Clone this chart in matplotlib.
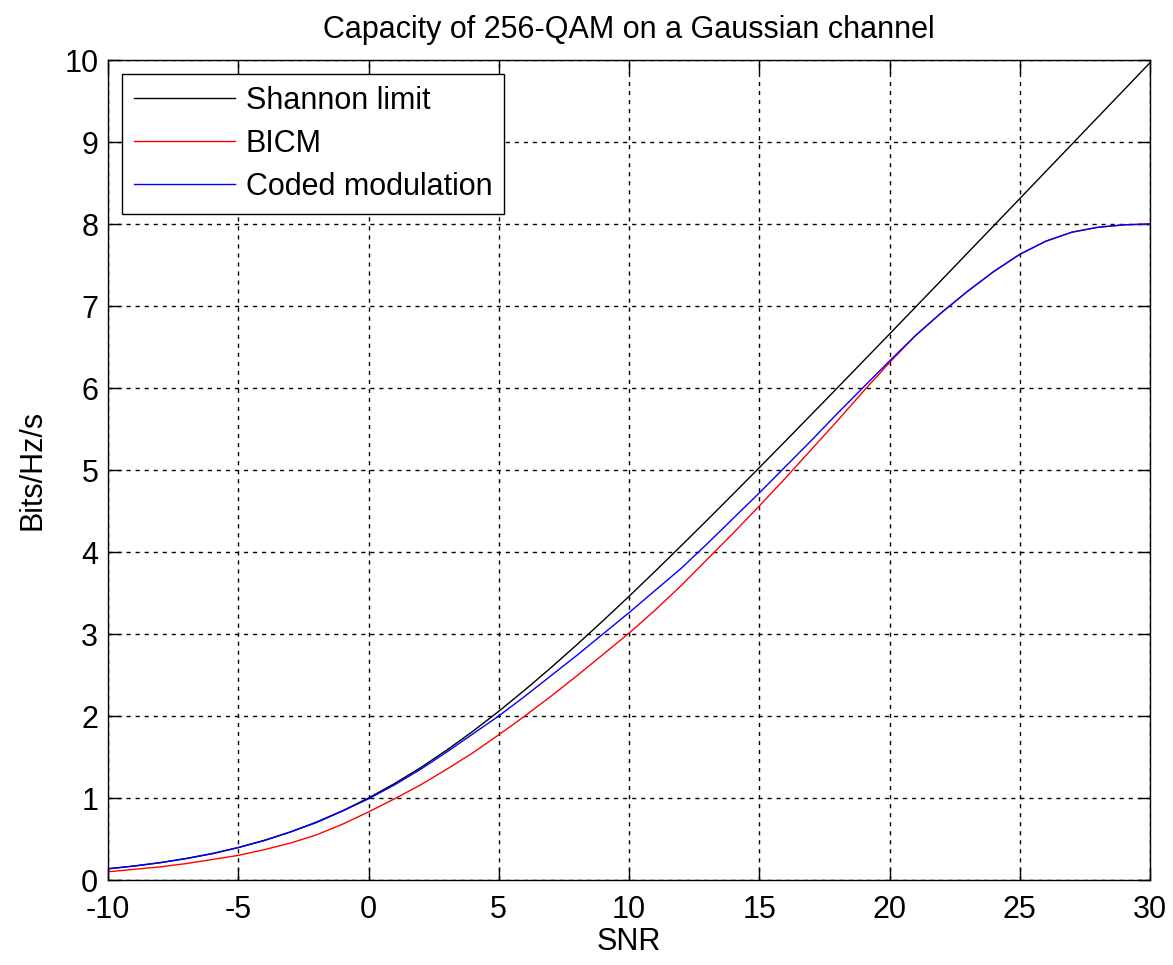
import matplotlib
matplotlib.use("Agg")
import matplotlib.pyplot as plt

plt.rcParams['font.family'] = ['Liberation Sans', 'DejaVu Sans']
plt.rcParams['axes.unicode_minus'] = False

snr = list(range(-10, 31))

shannon = [0.138, 0.171, 0.212, 0.263, 0.323, 0.396, 0.484, 0.586, 0.706, 0.844,
           1.000, 1.176, 1.370, 1.583, 1.812, 2.057, 2.317, 2.588, 2.870, 3.161,
           3.459, 3.764, 4.075, 4.389, 4.707, 5.028, 5.351, 5.676, 6.002, 6.330,
           6.658, 6.987, 7.317, 7.648, 7.978, 8.309, 8.641, 8.972, 9.304, 9.635,
           9.967]

bicm = [0.10, 0.13, 0.16, 0.20, 0.25, 0.30, 0.37, 0.45, 0.55, 0.68,
        0.83, 0.99, 1.16, 1.35, 1.55, 1.77, 2.00, 2.24, 2.49, 2.75,
        3.01, 3.29, 3.59, 3.91, 4.23, 4.56, 4.90, 5.25, 5.60, 5.96,
        6.31, 6.64, 6.92, 7.18, 7.42, 7.63, 7.79, 7.90, 7.96, 7.99,
        8.00]

coded = [0.135, 0.17, 0.21, 0.26, 0.32, 0.395, 0.48, 0.585, 0.70, 0.84,
         0.99, 1.16, 1.35, 1.56, 1.78, 2.00, 2.24, 2.49, 2.74, 3.00,
         3.26, 3.53, 3.80, 4.10, 4.41, 4.72, 5.04, 5.36, 5.69, 6.01,
         6.33, 6.64, 6.92, 7.18, 7.42, 7.63, 7.79, 7.90, 7.96, 7.99,
         8.00]

labels = ['Shannon limit', 'BICM', 'Coded modulation']

FS = 22
W, H = 1173, 965
fig = plt.figure(figsize=(W / 100, H / 100), dpi=100)
ax = fig.add_axes([108 / W, 1 - 880 / H, (1150 - 108) / W, (880 - 60) / H])

ax.plot(snr, shannon, color='black', lw=1.0, label=labels[0])
ax.plot(snr, bicm, color='#ff0000', lw=1.0, label=labels[1])
ax.plot(snr, coded, color='#0000ff', lw=1.0, label=labels[2])

ax.set_xlim(-10, 30)
ax.set_ylim(0, 10)
ax.set_xticks(range(-10, 31, 5))
ax.set_yticks(range(0, 11, 1))
ax.grid(True, color='black', linestyle=(0, (3, 3.5)), linewidth=1.0)
ax.tick_params(direction='in', length=9, width=1.0, top=True, right=True,
               labelsize=FS, colors='black')
ax.tick_params(axis='x', pad=11)
ax.tick_params(axis='y', pad=7)
for s in ax.spines.values():
    s.set_linewidth(1.0)
    s.set_color('black')

ax.set_xlabel('SNR', fontsize=FS, labelpad=1)
ax.set_ylabel('Bits/Hz/s', fontsize=FS, labelpad=12)
ax.set_title('Capacity of 256-QAM on a Gaussian channel', fontsize=FS, pad=16)

leg = ax.legend(loc='upper left', fontsize=FS, frameon=True, fancybox=False,
                edgecolor='black', framealpha=1, borderaxespad=0.45,
                handlelength=3.3, handletextpad=0.35, labelspacing=0.42,
                borderpad=0.4)
leg.get_frame().set_linewidth(1.0)

fig.savefig('out.png', dpi=100)
